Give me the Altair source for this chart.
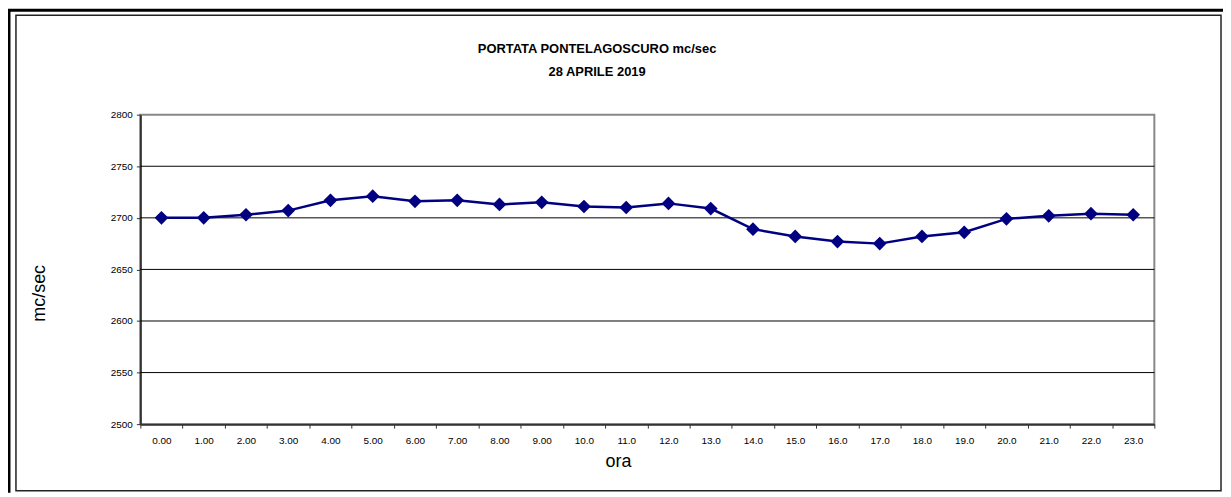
import altair as alt
import pandas as pd

# ---- data ----
hours = ["0.00", "1.00", "2.00", "3.00", "4.00", "5.00", "6.00", "7.00", "8.00", "9.00",
         "10.0", "11.0", "12.0", "13.0", "14.0", "15.0", "16.0", "17.0", "18.0", "19.0",
         "20.0", "21.0", "22.0", "23.0"]
flow = [2700, 2700, 2703, 2707, 2717, 2721, 2716, 2717, 2713, 2715, 2711, 2710,
        2714, 2709, 2689, 2682, 2677, 2675, 2682, 2686, 2699, 2702, 2704, 2703]
y_ticks = [2500, 2550, 2600, 2650, 2700, 2750, 2800]
grid_values = [2550, 2600, 2650, 2700, 2750]
title_lines = ["PORTATA PONTELAGOSCURO mc/sec", "28 APRILE 2019"]
x_title = "ora"
y_title = "mc/sec"

FONT = "Liberation Sans"
NAVY = "#000080"
W, H = 1019, 311
PAD = {"left": 133, "top": 106, "right": 69, "bottom": 69}

df = pd.DataFrame({"ora": hours, "portata": flow})
one = pd.DataFrame({"k": [0]})

yscale = alt.Scale(domain=[y_ticks[0], y_ticks[-1]], nice=False, zero=False)
xscale = alt.Scale(type="band", paddingInner=0, paddingOuter=0)

x_axis = alt.Axis(
    title=x_title, labelAngle=0, tickBand="extent", grid=False,
    labelFontSize=10, labelColor="black", labelPadding=12, labelBaseline="middle",
    tickSize=4, tickColor="#333333", tickWidth=1,
    domainColor="#333333", domainWidth=2,
    titleFontSize=18, titleFontWeight="normal", titleColor="black",
    titleX=480, titleY=38, titleAlign="center", titleBaseline="middle",
)
y_axis = alt.Axis(
    title=y_title, values=y_ticks, grid=False, format="d",
    labelFontSize=10, labelColor="black", labelPadding=4,
    tickSize=4, tickColor="#333333", tickWidth=1,
    domainColor="#333333", domainWidth=2,
    titleFontSize=18, titleFontWeight="normal", titleColor="black",
    titleAngle=-90, titleX=-101, titleY=179, titleAlign="center", titleBaseline="middle",
)

grid = alt.Chart(pd.DataFrame({"v": grid_values})).mark_rule(
    color="black", strokeWidth=1
).encode(y=alt.Y("v:Q", scale=yscale, axis=y_axis))

line = alt.Chart(df).mark_line(color=NAVY, strokeWidth=2.5).encode(
    x=alt.X("ora:N", sort=hours, scale=xscale, axis=x_axis),
    y=alt.Y("portata:Q", scale=yscale, axis=y_axis),
)
points = alt.Chart(df).mark_point(
    shape="diamond", size=190, filled=True, color=NAVY, opacity=1
).encode(
    x=alt.X("ora:N", sort=hours, scale=xscale, axis=x_axis),
    y=alt.Y("portata:Q", scale=yscale, axis=y_axis),
)

# frame decorations
top_thick = alt.Chart(one).mark_rule(color="black", strokeWidth=3).encode(
    x=alt.value(-133), x2=alt.value(1088), y=alt.value(-105))
left_thick = alt.Chart(one).mark_rule(color="black", strokeWidth=3).encode(
    x=alt.value(-132), y=alt.value(-106), y2=alt.value(380))
inner_box = alt.Chart(one).mark_rect(
    fill="transparent", stroke="#222222", strokeWidth=1.5
).encode(x=alt.value(-125), x2=alt.value(1086), y=alt.value(-100), y2=alt.value(378))

title1 = alt.Chart(one).mark_text(
    text=title_lines[0], font=FONT, fontSize=13, fontWeight="bold", color="black",
    align="center", baseline="alphabetic"
).encode(x=alt.value(459), y=alt.value(-62))
title2 = alt.Chart(one).mark_text(
    text=title_lines[1], font=FONT, fontSize=13, fontWeight="bold", color="black",
    align="center", baseline="alphabetic"
).encode(x=alt.value(459), y=alt.value(-39))

chart = alt.layer(
    grid, line, points, inner_box, top_thick, left_thick, title1, title2
).properties(
    width=W, height=H, padding=PAD, autosize=alt.AutoSizeParams(type="none"),
    background="white",
).configure_view(
    stroke="#888888", strokeWidth=2
).configure_axis(
    labelFont=FONT, titleFont=FONT
)

chart.save("out.html", embed_options={"renderer": "svg", "actions": False})
